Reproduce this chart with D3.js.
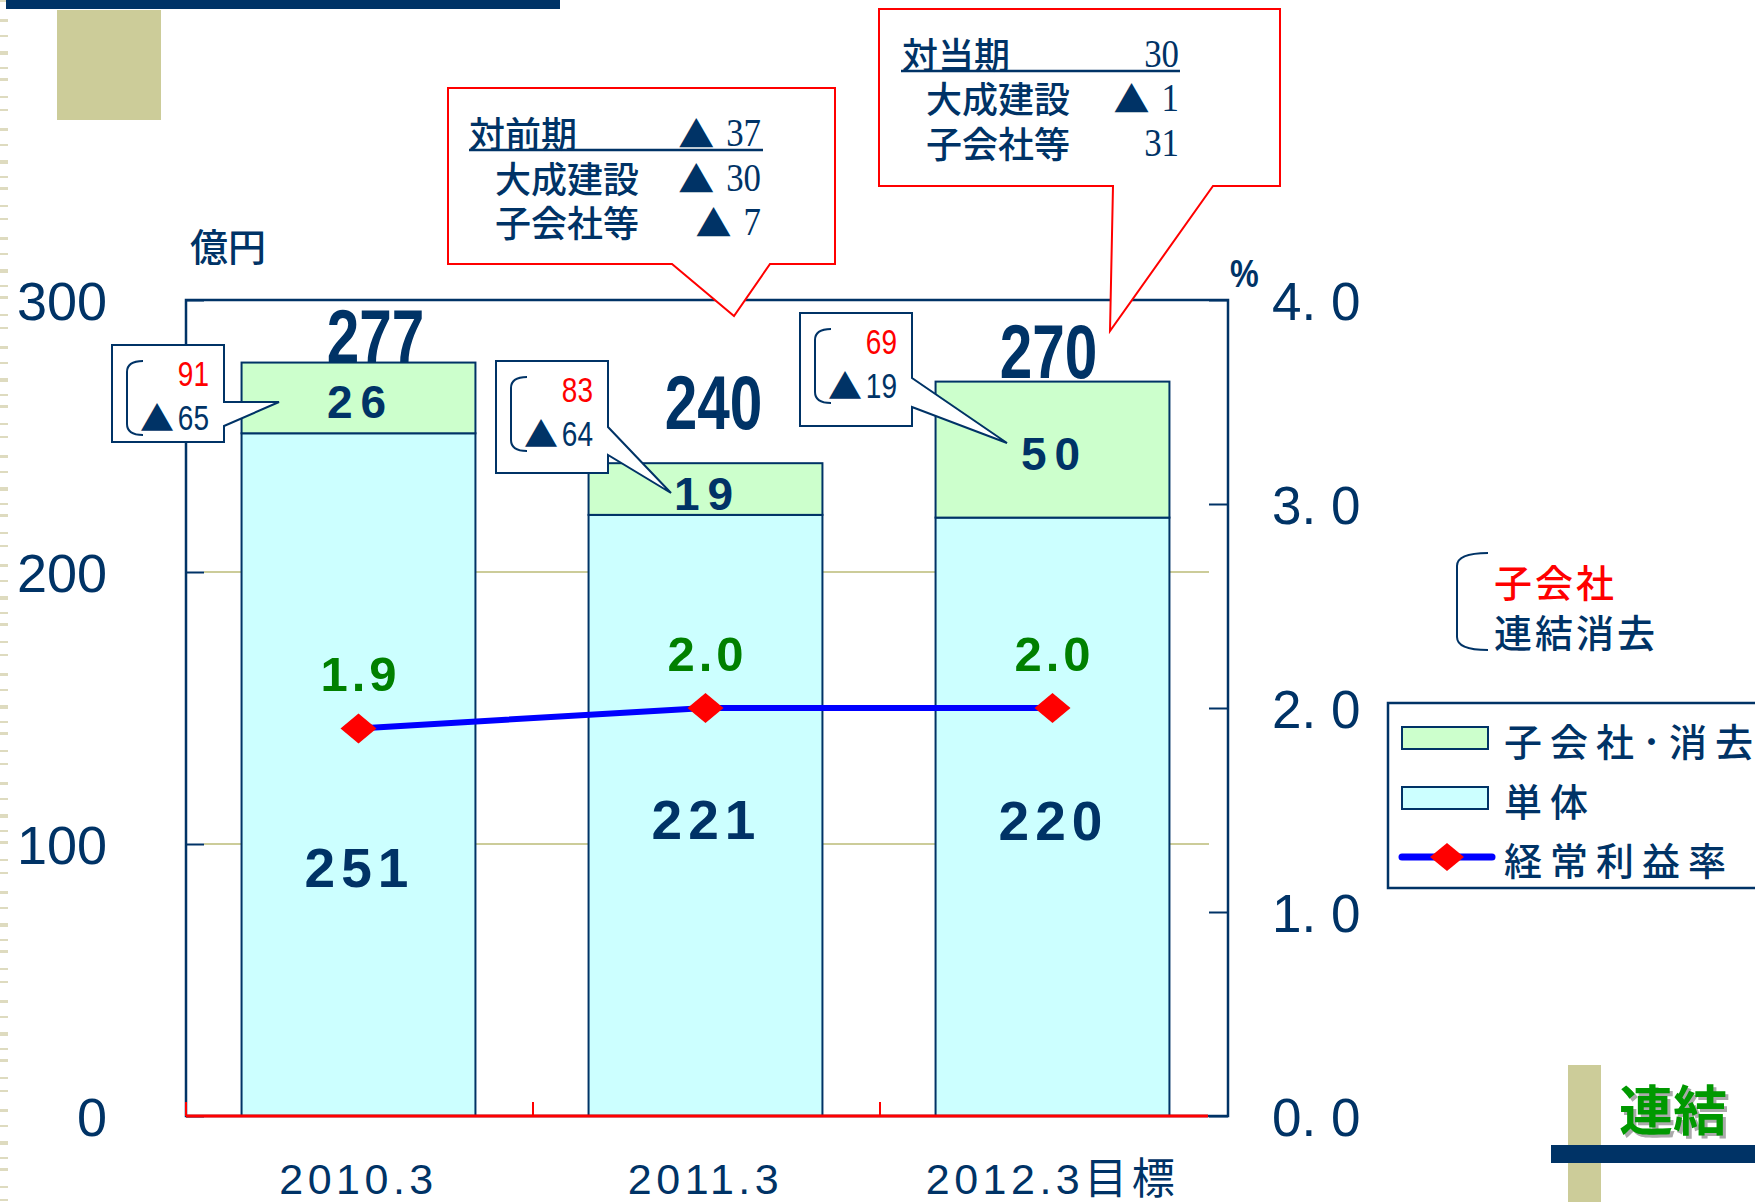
<!DOCTYPE html>
<html>
<head>
<meta charset="utf-8">
<script src="https://cdn.jsdelivr.net/npm/d3@7"></script>
<style>
  body { margin: 0; background: #fff; }
  svg { display: block; font-family: "Liberation Sans", "Noto Sans CJK JP", sans-serif; }
</style>
</head>
<body>
<svg id="chart" width="1755" height="1202"></svg>
<script>
// ---- data (億円, %) ----
const categories = ["2010.3", "2011.3", "2012.3目標"];
const tantai = [251, 221, 220];          // 単体
const subsidiaries = [26, 19, 50];       // 子会社・消去
const totals = [277, 240, 270];
const rates = [1.9, 2.0, 2.0];           // 経常利益率
const leftTicks = [0, 100, 200, 300];
const rightTicks = [0, 1, 2, 3, 4];
const subGross = ["91", "83", "69"];     // 子会社
const subElim = ["65", "64", "19"];      // 連結消去 (▲)
const vsPrevRows = [["対前期", "▲", "37"], ["大成建設", "▲", "30"], ["子会社等", "▲", "7"]];
const vsPlanRows = [["対当期", "", "30"], ["大成建設", "▲", "1"], ["子会社等", "", "31"]];

// ---- layout ----
const navy = "#003366";
const cjk = "'Noto Sans CJK JP', sans-serif";
const plot = {left: 186, right: 1228, top: 300, bottom: 1116};
const totalNudge = [[17, 0], [8, -34], [-4, -4]];
const baseNudge = [93, 4, 3];

const svg = d3.select("#chart");

// squeeze text horizontally, like the narrow fonts in the original
function squeeze(sel, k) {
    sel.each(function() {
        const len = this.getComputedTextLength();
        d3.select(this).attr("textLength", len * k).attr("lengthAdjust", "spacingAndGlyphs");
    });
}

// ---- page decoration ----
svg.append("line")
    .attr("x1", 4).attr("x2", 4).attr("y1", 0).attr("y2", 1202)
    .attr("stroke", "#DEDBBF").attr("stroke-width", 8)
    .attr("stroke-dasharray", "2 17 3 13 2 14 4 12 2 9 3 15 2 11");
svg.append("rect").attr("x", 6).attr("y", 0).attr("width", 554).attr("height", 9).attr("fill", navy);
svg.append("rect").attr("x", 57).attr("y", 10).attr("width", 104).attr("height", 110).attr("fill", "#CCCC99");

svg.append("rect").attr("x", 1568).attr("y", 1065).attr("width", 33).attr("height", 137).attr("fill", "#CCCC99");
svg.append("rect").attr("x", 1551).attr("y", 1145).attr("width", 204).attr("height", 18).attr("fill", navy);
svg.append("text").attr("x", 1622).attr("y", 1110).attr("dominant-baseline", "central")
    .style("font-family", cjk).style("font-weight", "bold").style("font-size", "54px")
    .attr("fill", "#aaaaaa").text("連結");
svg.append("text").attr("x", 1619).attr("y", 1107).attr("dominant-baseline", "central")
    .style("font-family", cjk).style("font-weight", "bold").style("font-size", "54px")
    .attr("fill", "#009900").text("連結");

// ---- scales ----
const x = d3.scaleBand().domain(categories).range([185, 1226]).paddingInner(0.326).paddingOuter(0.163);
const yL = d3.scaleLinear().domain([0, 300]).range([plot.bottom, plot.top]);
const yR = d3.scaleLinear().domain([0, 4]).range([plot.bottom, plot.top]);
const cx = i => x(categories[i]) + x.bandwidth() / 2;

// gridlines
svg.append("g").selectAll("line").data([100, 200]).join("line")
    .attr("x1", plot.left + 18).attr("x2", plot.right - 19)
    .attr("y1", d => yL(d)).attr("y2", d => yL(d))
    .attr("stroke", "#CCCC99").attr("stroke-width", 2);

// bars
const bars = svg.append("g").attr("stroke", navy).attr("stroke-width", 2);
bars.selectAll(".base").data(tantai).join("rect")
    .attr("class", "base")
    .attr("x", (d, i) => x(categories[i])).attr("width", x.bandwidth())
    .attr("y", d => yL(d)).attr("height", d => yL(0) - yL(d))
    .attr("fill", "#CCFFFF");
bars.selectAll(".sub").data(subsidiaries).join("rect")
    .attr("class", "sub")
    .attr("x", (d, i) => x(categories[i])).attr("width", x.bandwidth())
    .attr("y", (d, i) => yL(tantai[i] + d)).attr("height", d => yL(0) - yL(d))
    .attr("fill", "#CCFFCC");

// frame
svg.append("rect")
    .attr("x", plot.left).attr("y", plot.top)
    .attr("width", plot.right - plot.left).attr("height", plot.bottom - plot.top)
    .attr("fill", "none").attr("stroke", navy).attr("stroke-width", 2.5);

// left axis
const axL = svg.append("g").attr("transform", `translate(${plot.left},0)`)
    .call(d3.axisLeft(yL).tickValues(leftTicks).tickSize(-18).tickPadding(79));
axL.select(".domain").remove();
axL.selectAll("line").attr("stroke", navy).attr("stroke-width", 2);
axL.attr("font-size", 54).attr("font-family", "Liberation Sans");
axL.selectAll("text").attr("fill", navy).attr("dy", "0.36em");

// right axis
const axR = svg.append("g").attr("transform", `translate(${plot.right},0)`)
    .call(d3.axisRight(yR).tickValues(rightTicks).tickSize(-19).tickPadding(44)
        .tickFormat(d => d.toFixed(1).replace(".", ". ")));
axR.select(".domain").remove();
axR.selectAll("line").attr("stroke", navy).attr("stroke-width", 2);
axR.attr("font-size", 53).attr("font-family", "Liberation Sans");
axR.selectAll("text").attr("fill", navy).attr("dy", "0.36em");

// bottom axis: red base line + category labels
const axB = svg.append("g").attr("transform", `translate(0,${plot.bottom})`)
    .call(d3.axisBottom(x).tickSize(0).tickPadding(47));
axB.select(".domain").remove();
axB.attr("font-size", 43).attr("font-family", "Liberation Sans, Noto Sans CJK JP");
axB.selectAll("text").attr("fill", navy).attr("dy", "0.72em").style("letter-spacing", "4.5px");

svg.append("line")
    .attr("x1", plot.left).attr("x2", plot.right - 20)
    .attr("y1", plot.bottom).attr("y2", plot.bottom)
    .attr("stroke", "#FF0000").attr("stroke-width", 3);
svg.append("g").selectAll("line").data(d3.range(categories.length)).join("line")
    .attr("x1", i => x.range()[0] + i * x.step() + 1).attr("x2", i => x.range()[0] + i * x.step() + 1)
    .attr("y1", plot.bottom - 14).attr("y2", plot.bottom)
    .attr("stroke", "#FF0000").attr("stroke-width", 2);

// axis titles
svg.append("text").attr("x", 190).attr("y", 244).attr("dominant-baseline", "central")
    .style("font-family", cjk).style("font-weight", 500).style("font-size", "38px").attr("fill", navy).text("億円");
const pct = svg.append("text").attr("x", 1230).attr("y", 287)
    .style("font-weight", "bold").style("font-size", "38px").attr("fill", navy).text("%");
squeeze(pct, 0.85);

// rate line
const line = d3.line().x((d, i) => cx(i)).y(d => yR(d));
svg.append("path").datum(rates)
    .attr("d", line).attr("fill", "none")
    .attr("stroke", "#0000FF").attr("stroke-width", 6);
svg.append("g").selectAll("path").data(rates).join("path")
    .attr("d", (d, i) => `M${cx(i) - 18},${yR(d)}L${cx(i)},${yR(d) - 15}L${cx(i) + 18},${yR(d)}L${cx(i)},${yR(d) + 15}Z`)
    .attr("fill", "#FF0000");

// value labels
svg.append("g").selectAll("text").data(rates).join("text")
    .attr("x", (d, i) => cx(i) + 2).attr("y", d => yR(d) - 55).attr("dy", "0.36em")
    .attr("text-anchor", "middle").attr("fill", "#008000")
    .style("font-weight", "bold").style("font-size", "49px").style("letter-spacing", "4px")
    .text(d => d.toFixed(1));

svg.append("g").selectAll("text").data(tantai).join("text")
    .attr("x", (d, i) => cx(i) + 1).attr("y", (d, i) => (yL(d) + yL(0)) / 2 + baseNudge[i]).attr("dy", "0.36em")
    .attr("text-anchor", "middle").attr("fill", navy)
    .style("font-weight", "bold").style("font-size", "55px").style("letter-spacing", "6px")
    .text(d => d);

svg.append("g").selectAll("text").data(subsidiaries).join("text")
    .attr("x", (d, i) => cx(i) + 2).attr("y", (d, i) => (yL(tantai[i]) + yL(tantai[i] + d)) / 2 + 4).attr("dy", "0.36em")
    .attr("text-anchor", "middle").attr("fill", navy)
    .style("font-weight", "bold").style("font-size", "46px").style("letter-spacing", "8px")
    .text(d => d);

const totalLabels = svg.append("g").selectAll("text").data(totals).join("text")
    .attr("x", (d, i) => cx(i) + totalNudge[i][0]).attr("y", (d, i) => yL(d) + totalNudge[i][1])
    .attr("text-anchor", "middle").attr("fill", navy)
    .style("font-weight", "bold").style("font-size", "76px")
    .text(d => d);
squeeze(totalLabels, 0.77);

// ---- small callouts: 子会社 / ▲連結消去 ----
const smallBoxes = [
    {x: 112, y: 345, w: 112, h: 97, p: [402, 426], tip: [279, 402]},
    {x: 496, y: 361, w: 112, h: 112, p: [427, 455], tip: [671, 493]},
    {x: 800, y: 313, w: 112, h: 113, p: [378, 407], tip: [1007, 443]}
];
smallBoxes.forEach((b, i) => {
    const g = svg.append("g");
    const r = b.x + b.w;
    g.append("path")
        .attr("d", `M${b.x},${b.y}H${r}V${b.p[0]}L${b.tip[0]},${b.tip[1]}L${r},${b.p[1]}V${b.y + b.h}H${b.x}Z`)
        .attr("fill", "#fff").attr("stroke", navy).attr("stroke-width", 2);
    const bx = b.x + 15, top = b.y + 16, bot = b.y + 90;
    g.append("path")
        .attr("d", `M${bx + 16},${top}Q${bx},${top} ${bx},${top + 11}V${bot - 11}Q${bx},${bot} ${bx + 16},${bot}`)
        .attr("fill", "none").attr("stroke", navy).attr("stroke-width", 2);
    const numEnd = b.x + 97;
    const t1 = g.append("text").attr("x", numEnd).attr("y", b.y + 28).attr("dy", "0.36em")
        .attr("text-anchor", "end").attr("fill", "#FF0000").style("font-size", "35px")
        .text(subGross[i]);
    squeeze(t1, 0.8);
    const t2 = g.append("text").attr("x", numEnd).attr("y", b.y + 72).attr("dy", "0.36em")
        .attr("text-anchor", "end").attr("fill", navy).style("font-size", "35px")
        .text(subElim[i]);
    squeeze(t2, 0.8);
    g.append("text").attr("x", b.x + 28).attr("y", b.y + 71).attr("dominant-baseline", "central")
        .style("font-family", cjk).style("font-size", "34px").attr("fill", navy).text("▲");
});

// ---- red comparison callouts ----
function bigCallout(shape, rows, rowY, labelX, numEnd, underline) {
    const g = svg.append("g");
    g.append("path").attr("d", shape)
        .attr("fill", "#fff").attr("stroke", "#FF0000").attr("stroke-width", 2);
    rows.forEach((row, j) => {
        g.append("text").attr("x", labelX[j]).attr("y", rowY[j]).attr("dominant-baseline", "central")
            .style("font-family", cjk).style("font-weight", 500).style("font-size", "36px")
            .attr("fill", navy).text(row[0]);
        const num = g.append("text").attr("x", numEnd).attr("y", rowY[j]).attr("dy", "0.34em")
            .attr("text-anchor", "end").attr("fill", navy)
            .style("font-family", "Liberation Serif").style("font-size", "41px")
            .text(row[2]);
        squeeze(num, 0.85);
        const w = +num.attr("textLength");
        if (row[1]) {
            g.append("text").attr("x", numEnd - w - 12).attr("y", rowY[j]).attr("dominant-baseline", "central")
                .attr("text-anchor", "end")
                .style("font-family", cjk).style("font-size", "36px").attr("fill", navy).text(row[1]);
        }
    });
    g.append("line")
        .attr("x1", underline[0]).attr("x2", underline[1]).attr("y1", underline[2]).attr("y2", underline[2])
        .attr("stroke", navy).attr("stroke-width", 2.5);
}
bigCallout("M448,88H835V264H770L734,316L672,264H448Z",
    vsPrevRows, [132, 177, 221], [469, 495, 495], 761, [469, 763, 150]);
bigCallout("M879,9H1280V186H1213L1110,331L1113,186H879Z",
    vsPlanRows, [53, 97, 142], [902, 926, 926], 1179, [901, 1180, 71]);

// ---- side note ----
svg.append("path")
    .attr("d", "M1488,553Q1457,553 1457,566V637Q1457,650 1488,650")
    .attr("fill", "none").attr("stroke", navy).attr("stroke-width", 2);
svg.append("text").attr("x", 1494).attr("y", 580).attr("dominant-baseline", "central")
    .style("font-family", cjk).style("font-weight", 500).style("font-size", "38px").style("letter-spacing", "3px")
    .attr("fill", "#FF0000").text("子会社");
svg.append("text").attr("x", 1494).attr("y", 630).attr("dominant-baseline", "central")
    .style("font-family", cjk).style("font-weight", 500).style("font-size", "38px").style("letter-spacing", "3px")
    .attr("fill", navy).text("連結消去");

// ---- legend ----
const legend = svg.append("g");
legend.append("rect").attr("x", 1388).attr("y", 703).attr("width", 400).attr("height", 185)
    .attr("fill", "#fff").attr("stroke", navy).attr("stroke-width", 2.5);
const legendItems = [
    {label: "子会社･消去", y: 738, fill: "#CCFFCC"},
    {label: "単体", y: 798, fill: "#CCFFFF"},
    {label: "経常利益率", y: 857, fill: null}
];
legendItems.forEach(it => {
    if (it.fill) {
        legend.append("rect").attr("x", 1402).attr("y", it.y - 11).attr("width", 86).attr("height", 22)
            .attr("fill", it.fill).attr("stroke", navy).attr("stroke-width", 2);
    } else {
        legend.append("line").attr("x1", 1402).attr("x2", 1492).attr("y1", it.y).attr("y2", it.y)
            .attr("stroke", "#0000FF").attr("stroke-width", 7).attr("stroke-linecap", "round");
        legend.append("path").attr("d", `M1430,${it.y}L1447,${it.y - 14}L1464,${it.y}L1447,${it.y + 14}Z`)
            .attr("fill", "#FF0000");
    }
    legend.append("text").attr("x", 1504).attr("y", it.y + 1).attr("dominant-baseline", "central")
        .style("font-family", cjk).style("font-weight", 500).style("font-size", "38px").style("letter-spacing", "8px")
        .attr("fill", navy).text(it.label);
});
</script>
</body>
</html>
